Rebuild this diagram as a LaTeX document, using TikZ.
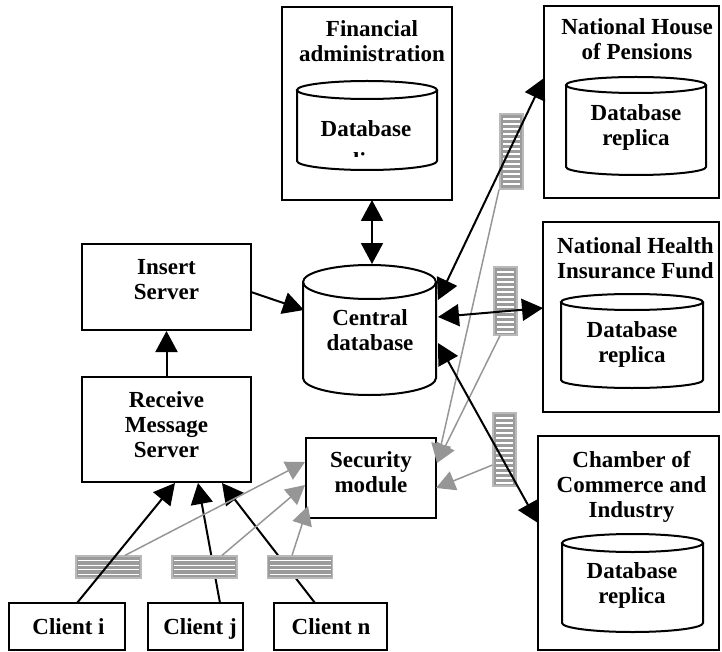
\documentclass[tikz,border=0pt]{standalone}
\usepackage{fontspec}
\setmainfont{Liberation Serif}
\usetikzlibrary{arrows.meta}
\definecolor{msgfill}{RGB}{155,155,155}
\definecolor{msgedge}{RGB}{185,185,185}
\definecolor{arrgray}{RGB}{150,150,150}
\newcommand\mkbox[5]{\node[boxst, minimum width={(#4)-(#2)}, minimum height={(#5)-(#3)}] (#1) at ({((#2)+(#4))/2},{((#3)+(#5))/2}) {};}
\newcommand\mkcyl[5]{%
  \draw[cyl] (#1,#3) -- (#1,#4) arc[start angle=180,end angle=360,x radius={((#2)-(#1))/2*1pt},y radius=#5pt] -- (#2,#3);
  \draw[cyl] ({((#1)+(#2))/2},#3) ellipse[x radius={((#2)-(#1))/2*1pt}, y radius=#5pt];}
\begin{document}
\begin{tikzpicture}[x=1pt,y=-1pt,
  boxst/.style={draw, line width=2pt, inner sep=0pt, rectangle},
  txt/.style={font=\fontsize{23}{25}\selectfont\bfseries, align=center, inner sep=0pt},
  cyl/.style={line width=2pt},
  blkarr/.style={line width=2pt, -{Triangle[length=21pt,width=22pt]}},
  dblarr/.style={line width=2pt, {Triangle[length=21pt,width=22pt]}-{Triangle[length=21pt,width=22pt]}},
  grarr/.style={draw=arrgray, line width=1.5pt, -{Triangle[length=19pt,width=20pt]}},
  msgh/.style={rectangle, inner sep=0pt, fill=msgfill, draw=msgedge, line width=1.2pt,
    minimum width=65pt, minimum height=22pt,
    path picture={\foreach \k in {1,...,4}
      \draw[white,line width=1.3pt] ([xshift=2pt,yshift={-\k*4.6pt}]path picture bounding box.north west) -- ([xshift=-2pt,yshift={-\k*4.6pt}]path picture bounding box.north east);}},
  msgv/.style={rectangle, inner sep=0pt, fill=msgfill, draw=msgedge, line width=1.2pt,
    minimum width=23pt,
    path picture={\foreach \k in {1,...,#1}
      \draw[white,line width=1.3pt] ([xshift=3pt,yshift={-\k*5pt}]path picture bounding box.north west) -- ([xshift=-3pt,yshift={-\k*5pt}]path picture bounding box.north east);}},
]
\useasboundingbox (0,0) rectangle (722,652);

% boxes
\mkbox{fin}{282}{7}{452}{200}
\mkbox{nhp}{544}{6}{719}{198}
\mkbox{nhif}{543}{222}{719}{412}
\mkbox{cham}{538}{436}{719}{650}
\mkbox{ins}{82}{244}{251}{330}
\mkbox{rcv}{82}{377}{251}{482}
\mkbox{sec}{306}{438}{436}{518}
\mkbox{ci}{9}{603}{125}{650}
\mkbox{cj}{148}{603}{243}{650}
\mkbox{cn}{274}{603}{387}{650}

% cylinders
\mkcyl{297}{437}{90}{161}{9}
\mkcyl{303}{436}{282}{378}{17}
\mkcyl{566}{706}{85}{167}{8}
\mkcyl{561}{703}{302}{380}{8}
\mkcyl{562}{703}{543}{623}{9}

% texts
\node[txt] (tfin) at (372,44.5) {\strut Financial\\\strut administration};
\node[txt] (dbfin) at (366,132) {\strut Database};
\begin{scope}
  \clip (300,140) rectangle (435,157);
  \node[txt] (dbfin2) at (354,164) {\strut replica};
\end{scope}
\node[txt] (tins) at (166.5,281.5) {\strut Insert\\\strut Server};
\node[txt] (trcv) at (166.5,427) {\strut Receive\\\strut Message\\\strut Server};
\node[txt] (cdb) at (370,332.5) {\strut Central\\\strut database};
\node[txt] (tsec) at (371,474.5) {\strut Security\\\strut module};
\node[txt] (tci) at (68.5,629) {\strut Client i};
\node[txt] (tcj) at (200,629) {\strut Client j};
\node[txt] (tcn) at (331,629) {\strut Client n};
\node[txt] (tnhp) at (637,42.5) {\strut National House\\\strut of Pensions};
\node[txt] (dbnhp) at (636,128.5) {\strut Database\\\strut replica};
\node[txt] (tnhif) at (635.5,260.5) {\strut National Health\\\strut Insurance Fund};
\node[txt] (dbnhif) at (632,344.5) {\strut Database\\\strut replica};
\node[txt] (tcham) at (631.5,487) {\strut Chamber of\\\strut Commerce and\\\strut Industry};
\node[txt] (dbcham) at (632,585.5) {\strut Database\\\strut replica};

% connector end points
\coordinate (finS) at (372,200);
\coordinate (cdbN) at (372,264);
\coordinate (cdbW) at (304,310);
\coordinate (insE) at (251,292);
\coordinate (cdbE1) at (438,300);
\coordinate (nhpW) at (544,78);
\coordinate (cdbE2) at (438,317);
\coordinate (nhifW) at (543,308);
\coordinate (cdbE3) at (438,343);
\coordinate (chamW) at (538,523);
\coordinate (rcvS1) at (175,483);
\coordinate (rcvS2) at (198,483);
\coordinate (rcvS3) at (222,483);
\coordinate (ciN) at (77,603);
\coordinate (cjN) at (220,603);
\coordinate (cnN) at (315,603);
\coordinate (secW1) at (305,462);
\coordinate (secW2) at (305,485);
\coordinate (secS) at (308,506);
\coordinate (secE1) at (437,463);
\coordinate (secE2) at (436,488);

% black arrows behind message icons
\draw[blkarr] (cjN) -- (rcvS2);
\draw[blkarr] (cnN) -- (rcvS3);

% message icons
\node[msgh] (m1) at (108.5,567) {};
\node[msgh] (m2) at (204.5,567) {};
\node[msgh] (m3) at (300,567) {};
\node[msgv=14, minimum height=75pt] (mA) at (511.5,151.5) {};
\node[msgv=13, minimum height=68pt] (mB) at (505.5,301) {};
\node[msgv=14, minimum height=73pt] (mC) at (504.5,449.5) {};

% gray arrows
\draw[grarr] (m1.north -| 125,0) -- (secW1);
\draw[grarr] (m2.north -| 222,0) -- (secW2);
\draw[grarr] (m3.north -| 292,0) -- (secS);
\draw[grarr] (mA.south -| 499,0) -- (secE1);
\draw[grarr] (mB.south -| 500,0) -- (secE1);
\draw[grarr] (mC.west |- 0,465) -- (secE2);

% black arrows
\draw[blkarr] (ciN) -- (rcvS1);
\draw[blkarr] (rcv.north) -- (ins.south);
\draw[blkarr] (insE) -- (cdbW);
\draw[dblarr] (finS) -- (cdbN);
\draw[dblarr] (cdbE1) -- (nhpW);
\draw[dblarr] (cdbE2) -- (nhifW);
\draw[dblarr] (cdbE3) -- (chamW);
\end{tikzpicture}
\end{document}
